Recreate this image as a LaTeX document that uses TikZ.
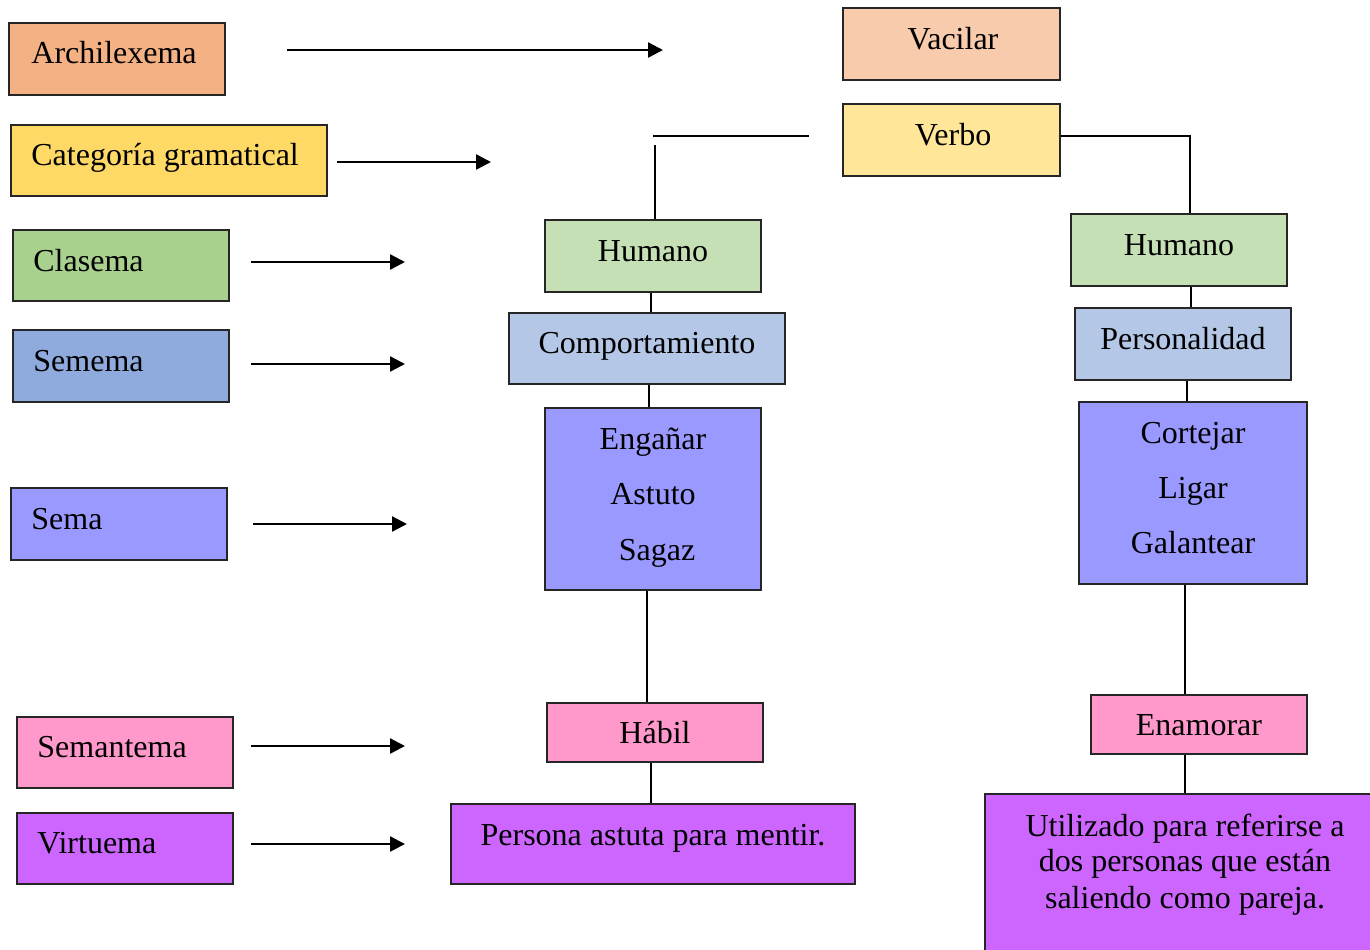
\documentclass[tikz,border=0pt]{standalone}
\usepackage{fontspec}
\setmainfont{Liberation Serif}
\usetikzlibrary{arrows.meta}

\definecolor{cArchi}{HTML}{F4B183}
\definecolor{cVacilar}{HTML}{F8CBAD}
\definecolor{cCateg}{HTML}{FFD966}
\definecolor{cVerbo}{HTML}{FFE699}
\definecolor{cClasema}{HTML}{A9D18E}
\definecolor{cHumano}{HTML}{C5E0B4}
\definecolor{cSemema}{HTML}{8FAADC}
\definecolor{cCompo}{HTML}{B4C7E7}
\definecolor{cSema}{HTML}{9999FF}
\definecolor{cSemantema}{HTML}{FF99CC}
\definecolor{cVirtuema}{HTML}{CC66FF}

\tikzset{
  cbox/.style={draw=black!85, line width=0.75pt, rectangle, inner sep=0pt},
  txt/.style={inner sep=0pt, font=\fontsize{16}{19}\selectfont},
  tie/.style={draw=black, line width=0.7pt},
  pointer/.style={draw=black, line width=1.2pt, -{Triangle[length=7.5pt,width=7.5pt]}}
}

\begin{document}
\begin{tikzpicture}[x=0.5pt, y=-0.5pt]
\useasboundingbox (0,0) rectangle (1370,949);

% ---- left column: level names ----
\node[cbox, fill=cArchi, minimum width=108pt, minimum height=36pt] (archi) at (117,59) {};
\node[txt, anchor=base west] (archi-t) at (31,63) {Archilexema};
\node[cbox, fill=cCateg, minimum width=158pt, minimum height=35.5pt] (categ) at (169,160.5) {};
\node[txt, anchor=base west] (categ-t) at (31,165) {Categoría gramatical};
\node[cbox, fill=cClasema, minimum width=108pt, minimum height=35.5pt] (clasema) at (121,265.5) {};
\node[txt, anchor=base west] (clasema-t) at (33,271) {Clasema};
\node[cbox, fill=cSemema, minimum width=108pt, minimum height=36pt] (semema) at (121,366) {};
\node[txt, anchor=base west] (semema-t) at (33,371) {Semema};
\node[cbox, fill=cSema, minimum width=108pt, minimum height=36pt] (sema) at (119,524) {};
\node[txt, anchor=base west] (sema-t) at (31,529) {Sema};
\node[cbox, fill=cSemantema, minimum width=108pt, minimum height=35.5pt] (semantema) at (125,752.5) {};
\node[txt, anchor=base west] (semantema-t) at (37,757) {Semantema};
\node[cbox, fill=cVirtuema, minimum width=108pt, minimum height=35.5pt] (virtuema) at (125,848.5) {};
\node[txt, anchor=base west] (virtuema-t) at (37,853) {Virtuema};

% ---- arrows from the level names ----
\coordinate (a1s) at (287,50);  \coordinate (a1e) at (663,50);
\coordinate (a2s) at (337,162); \coordinate (a2e) at (491,162);
\coordinate (a3s) at (251,262); \coordinate (a3e) at (405,262);
\coordinate (a4s) at (251,364); \coordinate (a4e) at (405,364);
\coordinate (a5s) at (253,524); \coordinate (a5e) at (407,524);
\coordinate (a6s) at (251,746); \coordinate (a6e) at (405,746);
\coordinate (a7s) at (251,844); \coordinate (a7e) at (405,844);
\foreach \i in {1,...,7} \draw[pointer] (a\i s) -- (a\i e);

% ---- top: lexeme and category ----
\node[cbox, fill=cVacilar, minimum width=108.5pt, minimum height=36pt] (vacilar) at (951.5,44) {};
\node[txt, anchor=base] (vacilar-t) at (953,49) {Vacilar};
\node[cbox, fill=cVerbo, minimum width=108.5pt, minimum height=36pt] (verbo) at (951.5,140) {};
\node[txt, anchor=base] (verbo-t) at (953,145) {Verbo};

% ---- left branch ----
\node[cbox, fill=cHumano, minimum width=108pt, minimum height=36pt] (humL) at (653,256) {};
\node[txt, anchor=base] (humL-t) at (653,261) {Humano};
\node[cbox, fill=cCompo, minimum width=138pt, minimum height=35.5pt] (comp) at (647,348.5) {};
\node[txt, anchor=base] (comp-t) at (647,353) {Comportamiento};
\node[cbox, fill=cSema, minimum width=108pt, minimum height=91pt] (eng) at (653,499) {};
\node[txt, anchor=base] (eng-t1) at (653,449) {Engañar};
\node[txt, anchor=base] (eng-t2) at (653,504) {Astuto};
\node[txt, anchor=base] (eng-t3) at (657,560) {Sagaz};
\node[cbox, fill=cSemantema, minimum width=108pt, minimum height=29.5pt] (habil) at (655,732.5) {};
\node[txt, anchor=base] (habil-t) at (655,743) {Hábil};
\node[cbox, fill=cVirtuema, minimum width=202pt, minimum height=40pt] (persona) at (653,844) {};
\node[txt, anchor=base] (persona-t) at (653,845) {Persona astuta para mentir.};

% ---- right branch ----
\node[cbox, fill=cHumano, minimum width=108pt, minimum height=36pt] (humR) at (1179,250) {};
\node[txt, anchor=base] (humR-t) at (1179,255) {Humano};
\node[cbox, fill=cCompo, minimum width=108pt, minimum height=36pt] (pers) at (1183,344) {};
\node[txt, anchor=base] (pers-t) at (1183,349) {Personalidad};
\node[cbox, fill=cSema, minimum width=114pt, minimum height=91pt] (cort) at (1193,493) {};
\node[txt, anchor=base] (cort-t1) at (1193,443) {Cortejar};
\node[txt, anchor=base] (cort-t2) at (1193,498) {Ligar};
\node[txt, anchor=base] (cort-t3) at (1193,553) {Galantear};
\node[cbox, fill=cSemantema, minimum width=108pt, minimum height=29.5pt] (enam) at (1199,724.5) {};
\node[txt, anchor=base] (enam-t) at (1199,735) {Enamorar};
\node[cbox, fill=cVirtuema, minimum width=194.5pt, minimum height=81pt] (util) at (1179.5,875) {};
\node[txt, anchor=base] (util-t1) at (1185,836) {Utilizado para referirse a};
\node[txt, anchor=base] (util-t2) at (1185,871) {dos personas que están};
\node[txt, anchor=base] (util-t3) at (1185,908) {saliendo como pareja.};

% ---- connectors ----
\coordinate (v1) at (653,136);
\coordinate (v2) at (809,136);
\coordinate (v3) at (655,145);
\coordinate (r1) at (1190,136);
\draw[tie] (v1) -- (v2);
\draw[tie] (v3) -- (v3 |- humL.north);
\draw[tie] (verbo.east |- r1) -- (r1) -- (r1 |- humR.north);

\coordinate (xL1) at (651,0);
\coordinate (xL2) at (649,0);
\coordinate (xL3) at (647,0);
\coordinate (xR1) at (1191,0);
\coordinate (xR2) at (1187,0);
\coordinate (xR3) at (1185,0);
\draw[tie] (humL.south -| xL1) -- (comp.north -| xL1);
\draw[tie] (comp.south -| xL2) -- (eng.north -| xL2);
\draw[tie] (eng.south -| xL3) -- (habil.north -| xL3);
\draw[tie] (habil.south -| xL1) -- (persona.north -| xL1);
\draw[tie] (humR.south -| xR1) -- (pers.north -| xR1);
\draw[tie] (pers.south -| xR2) -- (cort.north -| xR2);
\draw[tie] (cort.south -| xR3) -- (enam.north -| xR3);
\draw[tie] (enam.south -| xR3) -- (util.north -| xR3);
\end{tikzpicture}
\end{document}
